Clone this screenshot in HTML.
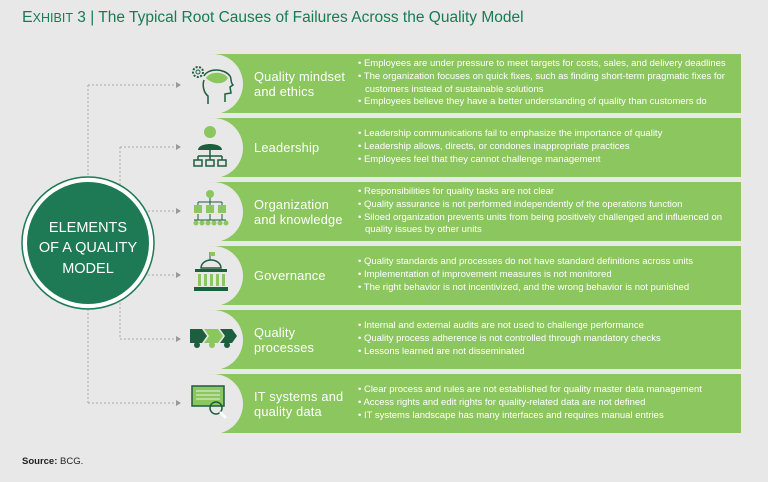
<!DOCTYPE html>
<html><head><meta charset="utf-8"><style>
body{margin:0;width:768px;height:482px;background:#e8e8e8;font-family:"Liberation Sans",sans-serif;position:relative;overflow:hidden}
.t{position:absolute;left:22px;top:9px;font-size:15.5px;color:#197a56;white-space:nowrap}
.band{position:absolute;left:206px;width:535px;height:59px;background:#8cc65f;border-radius:6px 0 0 6px}
.cut{position:absolute;width:60px;height:60px;border-radius:50%;background:#e8e8e8;left:-23px;top:-0.5px}
.lab{position:absolute;left:48px;top:0;height:59px;display:flex;align-items:center;color:#fff;font-size:12.8px;line-height:15px;letter-spacing:0.2px}
.bul{position:absolute;left:152px;top:0;height:59px;display:flex;flex-direction:column;justify-content:center;color:#fff;font-size:9.5px;line-height:12.7px;white-space:nowrap}
.bul div{padding-left:7px;text-indent:-7px}
.src{position:absolute;left:22px;top:456px;font-size:9.5px;color:#222}
</style></head><body>
<div class="t"><span style="font-size:16px">E</span><span style="font-size:12.5px">XHIBIT</span> 3 | The Typical Root Causes of Failures Across the Quality Model</div>
<svg width="768" height="482" style="position:absolute;left:0;top:0">
<g stroke="#aaa" stroke-width="1" stroke-dasharray="2,2" fill="none">
<path d="M88 85V403M88 85H176M88 403H176M120 147V339M120 147H176M120 211H176M120 275H176M120 339H176"/>
</g>
<g fill="#999"><path d="M176 82l5 3-5 3zM176 400l5 3-5 3zM176 144l5 3-5 3zM176 208l5 3-5 3zM176 272l5 3-5 3zM176 336l5 3-5 3z"/></g>
<circle cx="88" cy="243" r="66" fill="#fff" stroke="#1d7a55" stroke-width="1.5"/>
<circle cx="88" cy="243" r="61" fill="#1d7a55"/>
<text x="88" y="232" fill="#fff" font-size="14.5" text-anchor="middle" font-family="Liberation Sans">ELEMENTS</text>
<text x="88" y="252" fill="#fff" font-size="14.5" text-anchor="middle" font-family="Liberation Sans">OF A QUALITY</text>
<text x="88" y="273" fill="#fff" font-size="14.5" text-anchor="middle" font-family="Liberation Sans">MODEL</text>
</svg>

<div class="band" style="top:54px"><div class="cut"></div><div class="lab">Quality mindset<br>and ethics</div><div class="bul"><div>• Employees are under pressure to meet targets for costs, sales, and delivery deadlines</div><div>• The organization focuses on quick fixes, such as finding short-term pragmatic fixes for<br>customers instead of sustainable solutions</div><div>• Employees believe they have a better understanding of quality than customers do</div></div></div>
<div class="band" style="top:118px"><div class="cut"></div><div class="lab">Leadership</div><div class="bul"><div>• Leadership communications fail to emphasize the importance of quality</div><div>• Leadership allows, directs, or condones inappropriate practices</div><div>• Employees feel that they cannot challenge management</div></div></div>
<div class="band" style="top:182px"><div class="cut"></div><div class="lab">Organization<br>and knowledge</div><div class="bul"><div>• Responsibilities for quality tasks are not clear</div><div>• Quality assurance is not performed independently of the operations function</div><div>• Siloed organization prevents units from being positively challenged and influenced on<br>quality issues by other units</div></div></div>
<div class="band" style="top:246px"><div class="cut"></div><div class="lab">Governance</div><div class="bul"><div>• Quality standards and processes do not have standard definitions across units</div><div>• Implementation of improvement measures is not monitored</div><div>• The right behavior is not incentivized, and the wrong behavior is not punished</div></div></div>
<div class="band" style="top:310px"><div class="cut"></div><div class="lab">Quality<br>processes</div><div class="bul"><div>• Internal and external audits are not used to challenge performance</div><div>• Quality process adherence is not controlled through mandatory checks</div><div>• Lessons learned are not disseminated</div></div></div>
<div class="band" style="top:374px"><div class="cut"></div><div class="lab">IT systems and<br>quality data</div><div class="bul"><div>• Clear process and rules are not established for quality master data management</div><div>• Access rights and edit rights for quality-related data are not defined</div><div>• IT systems landscape has many interfaces and requires manual entries</div></div></div>

<svg width="768" height="482" style="position:absolute;left:0;top:0">
<g transform="translate(190,60)"><circle cx="8" cy="12" r="5" fill="none" stroke="#1d5e3e" stroke-width="2" stroke-dasharray="2,1.5"/><circle cx="8" cy="12" r="2" fill="none" stroke="#1d5e3e"/><path d="M14 16c4-8 20-8 26 0 2 3 0 6 3 9l-3 2 1 6-6 1v8M18 44v-8c-4-3-6-10-4-16" fill="none" stroke="#1d5e3e" stroke-width="1.5"/><path d="M16 18c4-7 18-7 22 0-3 6-14 8-22 0z" fill="#8cc65f"/></g>
<g transform="translate(194,124)" fill="#8cc65f"><circle cx="16" cy="8" r="6"/><path d="M4 26c0-8 24-8 24 0z" fill="#1d5e3e"/><path d="M16 26v6M4 32h24M4 32v4M16 32v4M28 32v4" stroke="#1d5e3e" fill="none" stroke-width="1.5"/><rect x="0" y="36" width="8" height="6" fill="none" stroke="#1d5e3e" stroke-width="1.5"/><rect x="12" y="36" width="8" height="6" fill="none" stroke="#1d5e3e" stroke-width="1.5"/><rect x="24" y="36" width="8" height="6" fill="none" stroke="#1d5e3e" stroke-width="1.5"/></g>
<g transform="translate(194,190)" fill="#8cc65f"><circle cx="16" cy="4" r="4"/><path d="M16 8v4M4 12h24M4 12v3M16 12v3M28 12v3M4 24v6M16 24v6M28 24v6M0 30h32" stroke="#1d5e3e" fill="none"/><rect x="0" y="15" width="8" height="8"/><rect x="12" y="15" width="8" height="8"/><rect x="24" y="15" width="8" height="8"/><circle cx="2" cy="33" r="2.5"/><circle cx="8" cy="33" r="2.5"/><circle cx="14" cy="33" r="2.5"/><circle cx="20" cy="33" r="2.5"/><circle cx="26" cy="33" r="2.5"/><circle cx="32" cy="33" r="2.5"/></g>
<g transform="translate(195,252)"><path d="M15 0v8" stroke="#1d5e3e"/><rect x="15" y="0" width="5" height="4" fill="#8cc65f"/><path d="M6 16a10 8 0 0 1 20 0z" fill="none" stroke="#1d5e3e" stroke-width="1.5"/><rect x="0" y="17" width="32" height="3" fill="#1d5e3e"/><g fill="#8cc65f"><rect x="3" y="22" width="3" height="12"/><rect x="9" y="22" width="3" height="12"/><rect x="15" y="22" width="3" height="12"/><rect x="21" y="22" width="3" height="12"/><rect x="27" y="22" width="3" height="12"/></g><rect x="-1" y="35" width="34" height="4" fill="#1d5e3e"/></g>
<g transform="translate(190,329)"><path d="M0 0h12l5 7-5 7H0z" fill="#1d5e3e"/><path d="M14 0h14l5 7-5 7H14l5-7z" fill="#8cc65f"/><path d="M30 0h12l5 7-5 7H30l5-7z" fill="#1d5e3e"/><circle cx="7" cy="16" r="3" fill="#1d5e3e"/><circle cx="22" cy="16" r="3" fill="#8cc65f"/><circle cx="37" cy="16" r="3" fill="#1d5e3e"/></g>
<g transform="translate(192,386)"><rect x="0" y="0" width="32" height="20" fill="#8cc65f" stroke="#1d5e3e" stroke-width="1.5"/><path d="M4 5h24M4 9h24M4 13h24" stroke="#e8f3df"/><circle cx="24" cy="22" r="6" fill="none" stroke="#1d5e3e" stroke-width="1.5"/><path d="M28 26l6 6" stroke="#fff" stroke-width="2.5"/></g>
</svg>
<div class="src"><b>Source:</b> BCG.</div>
</body></html>
